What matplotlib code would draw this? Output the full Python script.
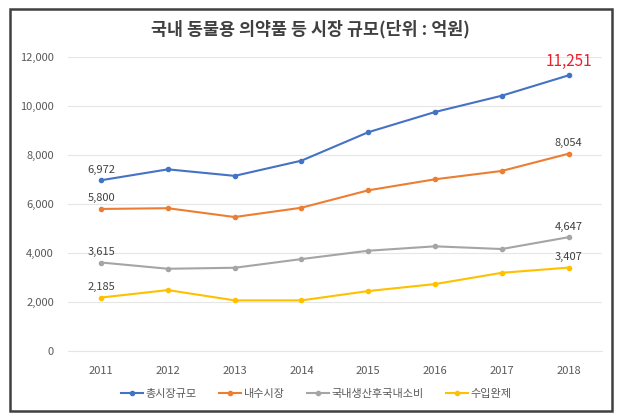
import matplotlib
matplotlib.use("Agg")
import matplotlib.pyplot as plt
from matplotlib.patches import Rectangle

plt.rcParams['font.family'] = ['Noto Sans CJK KR', 'DejaVu Sans']

years = ["2011", "2012", "2013", "2014", "2015", "2016", "2017", "2018"]
total = [6972, 7416, 7150, 7770, 8930, 9755, 10420, 11251]
domestic = [5800, 5830, 5470, 5850, 6560, 7010, 7350, 8054]
local_consumed = [3615, 3360, 3400, 3755, 4095, 4275, 4165, 4647]
imported = [2185, 2490, 2070, 2070, 2450, 2735, 3195, 3407]

series_names = ["총시장규모", "내수시장", "국내생산후국내소비", "수입완제"]
colors = ["#4472C4", "#ED7D31", "#A5A5A5", "#FFC000"]
series = [total, domestic, local_consumed, imported]

fig = plt.figure(figsize=(6.27, 4.16), dpi=100)
ax = fig.add_axes([0.108, 0.156, 0.852, 0.707])

x = list(range(len(years)))
for vals, name, c in zip(series, series_names, colors):
    ax.plot(x, vals, color=c, lw=1.5, marker='o', markersize=3, label=name)

# first/last value labels
txt = "#404040"
for vals in series:
    for i in (0, len(vals) - 1):
        if vals is total and i == len(vals) - 1:
            continue
        ax.annotate(f"{vals[i]:,}", (x[i], vals[i]), xytext=(0, 4),
                    textcoords="offset points", ha="center", va="bottom",
                    fontsize=8, color=txt)
ax.annotate(f"{total[-1]:,}", (x[-1], total[-1]), xytext=(0, 4),
            textcoords="offset points", ha="center", va="bottom",
            fontsize=11, color="#E8202A")

ax.set_xlim(-0.5, len(years) - 0.5)
ax.set_ylim(0, 12000)
ax.set_yticks(range(0, 12001, 2000))
ax.set_yticklabels([f"{v:,}" for v in range(0, 12001, 2000)])
ax.set_xticks(x)
ax.set_xticklabels(years)
ax.tick_params(axis='y', length=0, labelsize=8, colors="#595959", pad=10)
ax.tick_params(axis='x', length=0, labelsize=8, colors="#595959", pad=11)
ax.grid(axis='y', color="#E6E6E6", lw=0.8)
ax.set_axisbelow(True)
for s in ax.spines.values():
    s.set_visible(False)
ax.spines['bottom'].set_visible(True)
ax.spines['bottom'].set_color("#E6E6E6")

fig.text(0.495, 0.93, "국내 동물용 의약품 등 시장 규모(단위 : 억원)", ha="center",
         va="center", fontsize=12.5, color="#404040", fontweight="bold")

ax.legend(loc="upper center", bbox_to_anchor=(0.465, -0.095), ncol=4, frameon=False,
          fontsize=8, labelcolor="#595959", handlelength=2.0, handletextpad=0.2,
          columnspacing=2.0, markerscale=1)

fig.add_artist(Rectangle((0.016, 0.012), 0.96, 0.966, transform=fig.transFigure,
                         fill=False, edgecolor="#404040", lw=1.8))

fig.savefig("out.png", dpi=100)
